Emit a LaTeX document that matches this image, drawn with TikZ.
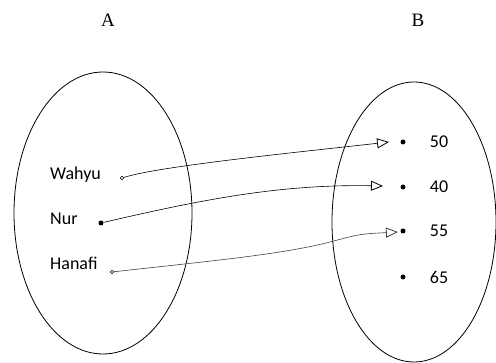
\documentclass[tikz,border=0pt]{standalone}
\usepackage{fontspec}
\setmainfont{Liberation Serif}
\newfontfamily\labfont{Carlito}
\usetikzlibrary{arrows.meta}
\begin{document}
\begin{tikzpicture}[x=1pt,y=-1pt,
  setline/.style={draw=black,line width=0.8pt},
  setname/.style={font=\fontsize{19}{21}\selectfont,inner sep=0pt},
  elem/.style={font=\labfont\fontsize{18}{20}\selectfont,inner sep=0pt,anchor=west},
  num/.style={font=\labfont\fontsize{18}{20}\selectfont,inner sep=0pt},
  fdot/.style={circle,fill=black,inner sep=0pt,minimum size=5pt},
  odot/.style={circle,draw=black,line width=0.7pt,inner sep=0pt,minimum size=3.5pt},
  mapto/.style={line width=0.6pt,-{Triangle[open,length=12pt,width=10pt,line width=0.8pt]}}]
\useasboundingbox (0,0) rectangle (496,363);
% sets
\draw[setline] (103,213) ellipse [x radius=89, y radius=141];
\draw[setline] (414,222) ellipse [x radius=82, y radius=140];
\node[setname] (A) at (108,20) {A};
\node[setname] (B) at (418,20) {B};
% domain
\node[elem] (wahyu) at (50,175) {Wahyu};
\node[elem] (nur) at (50,219) {Nur};
\node[elem] (hanafi) at (50,263) {Hanafi};
\node[odot] (dw) at (122,178) {};
\node[fdot] (dn) at (101,223) {};
\node[odot] (dh) at (112,272) {};
% codomain
\node[fdot] (b1) at (403,142) {};
\node[fdot] (b2) at (403,187) {};
\node[fdot] (b3) at (403,231) {};
\node[fdot] (b4) at (403,277) {};
\node[num] (n1) at (439,142) {50};
\node[num] (n2) at (439,187) {40};
\node[num] (n3) at (439,231) {55};
\node[num] (n4) at (439,277) {65};
\coordinate (t1) at (389,142);
\coordinate (t2) at (383,186);
\coordinate (t3) at (398,232);
% arrows
\draw[mapto] (dw) .. controls (160,166) and (300,152) .. (t1);
\draw[mapto] (dn) .. controls (200,200) and (280,184) .. (t2);
\draw[mapto,draw=black!75] (dh) .. controls (200,262) and (280,255) .. (330,242) .. controls (360,234) .. (t3);
\end{tikzpicture}
\end{document}
